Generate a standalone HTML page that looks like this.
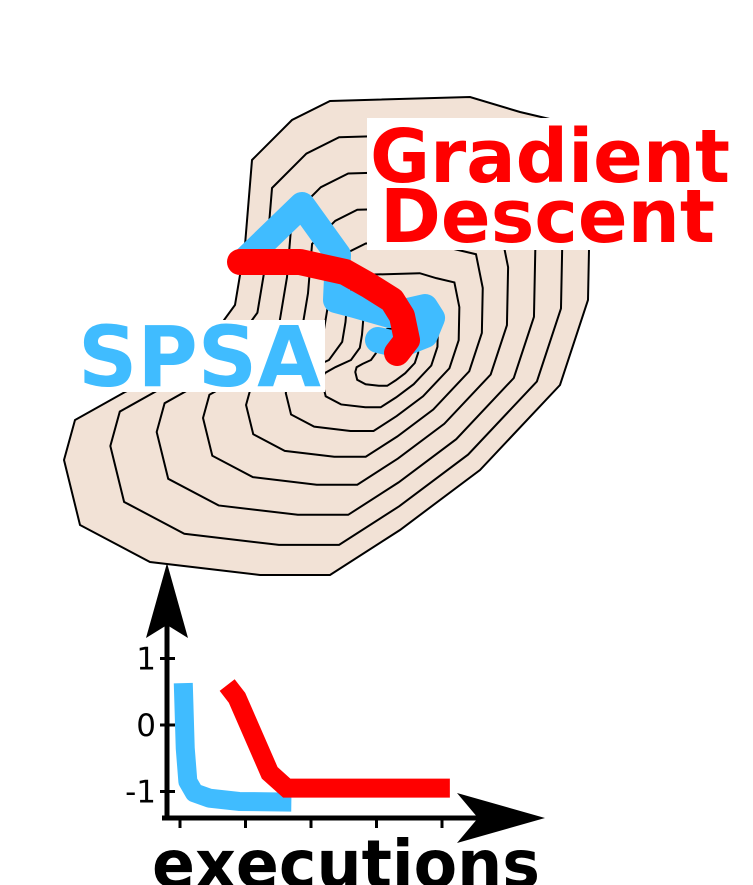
<!DOCTYPE html>
<html><head><meta charset="utf-8"><style>
html,body{margin:0;padding:0;background:#fff;width:753px;height:885px;overflow:hidden}
svg{display:block}
text{font-family:"DejaVu Sans","Liberation Sans",sans-serif;font-weight:bold}
</style></head><body>
<svg id="chart" width="753" height="885" viewBox="0 0 753 885">
<g id="map">
<path fill="#f2e2d6" stroke="#000" stroke-width="2" d="M330,101 L470,97 L520,112 L575,125 L590,200 L588,300 L560,385 L480,470 L400,530 L330,575 L260,575 L150,562 L80,525 L64,460 L75,420 L125,392 L195,360 L235,305 L245,245 L252,160 L292,120 Z"/>
<g id="rings" fill="none" stroke="#000" stroke-width="2"></g>
</g>
<g id="traj"></g>
<rect x="367" y="118" width="368" height="132" fill="#fff"/>
<text x="370" y="182" font-size="74" fill="#f00" textLength="360" lengthAdjust="spacingAndGlyphs">Gradient</text>
<text x="380" y="242" font-size="74" fill="#f00" textLength="335" lengthAdjust="spacingAndGlyphs">Descent</text>
<rect x="75" y="320" width="250" height="72" fill="#fff"/>
<text x="78" y="386" font-size="84" fill="#40bcff" textLength="243" lengthAdjust="spacingAndGlyphs">SPSA</text>
<g id="plot"></g>
<text x="152" y="887" font-size="66" fill="#000" textLength="388" lengthAdjust="spacingAndGlyphs">executions</text>
</svg>
<script>
const NS="http://www.w3.org/2000/svg";
const yTicks=[1,0,-1];
const yTickLabels=["1","0","-1"];
const xTicks=[0,1,2,3,4];
const spsaX=[0.05,0.08,0.12,0.22,0.45,0.9,1.7];
const spsaY=[0.63,-0.35,-0.85,-1.02,-1.1,-1.15,-1.16];
const gdX=[0.72,0.87,1.37,1.63,4.12];
const gdY=[0.6,0.41,-0.72,-0.95,-0.95];
const sx=v=>180+v*65.5;
const sy=v=>725-v*66.5;
function mk(tag,attrs,parent){const e=document.createElementNS(NS,tag);for(const k in attrs)e.setAttribute(k,attrs[k]);parent.appendChild(e);return e;}
const rings=document.getElementById('rings');
const outer="M330,101 L470,97 L520,112 L575,125 L590,200 L588,300 L560,385 L480,470 L400,530 L330,575 L260,575 L150,562 L80,525 L64,460 L75,420 L125,392 L195,360 L235,305 L245,245 L252,160 L292,120 Z";
[0.86,0.72,0.58,0.45,0.33,0.22,0.12].forEach((s,i)=>{
 const p=mk('path',{d:outer,transform:`translate(${395*(1-s)},${360*(1-s)}) scale(${s})`,'stroke-width':2/s},rings);
 
 
});
const traj=document.getElementById('traj');
const b=mk('polyline',{points:"243,262 302,205 338,255 336,300 355,305 390,315 425,307 432,318 425,335 400,345 378,340",fill:"none",stroke:"#40bcff","stroke-width":26,"stroke-linejoin":"round","stroke-linecap":"round"},traj);


const r=mk('polyline',{points:"240,262 300,262 345,272 368,285 392,300 402,316 407,340 397,353",fill:"none",stroke:"#f00","stroke-width":26,"stroke-linejoin":"round","stroke-linecap":"round"},traj);


const plot=document.getElementById('plot');
const ya=mk('line',{x1:167,y1:600,x2:167,y2:820,stroke:"#000","stroke-width":5},plot);


const yh=mk('path',{d:"M167,563 L188,638 L167,625 L146,638 Z",fill:"#000"},plot);


const xa=mk('line',{x1:162,y1:818,x2:480,y2:818,stroke:"#000","stroke-width":5},plot);


const xh=mk('path',{d:"M545,818 L457,843 L478,818 L457,793 Z",fill:"#000"},plot);


yTicks.forEach((v,i)=>{
 const t=mk('line',{x1:160,x2:175,y1:sy(v),y2:sy(v),stroke:"#000","stroke-width":3},plot);
 
 
 const l=mk('text',{x:156,y:sy(v)+11,"font-size":31,"text-anchor":"end",fill:"#000"},plot);
 l.style.fontWeight="normal";
 l.textContent=yTickLabels[i];
 
 
});
xTicks.forEach(v=>{
 const t=mk('line',{x1:sx(v),x2:sx(v),y1:818,y2:828,stroke:"#000","stroke-width":3},plot);
 
 
});
const sp=mk('polyline',{points:spsaX.map((x,i)=>sx(x)+","+sy(spsaY[i])).join(" "),fill:"none",stroke:"#40bcff","stroke-width":19,"stroke-linejoin":"round"},plot);


const gd=mk('polyline',{points:gdX.map((x,i)=>sx(x)+","+sy(gdY[i])).join(" "),fill:"none",stroke:"#f00","stroke-width":19},plot);


</script>
</body></html>
